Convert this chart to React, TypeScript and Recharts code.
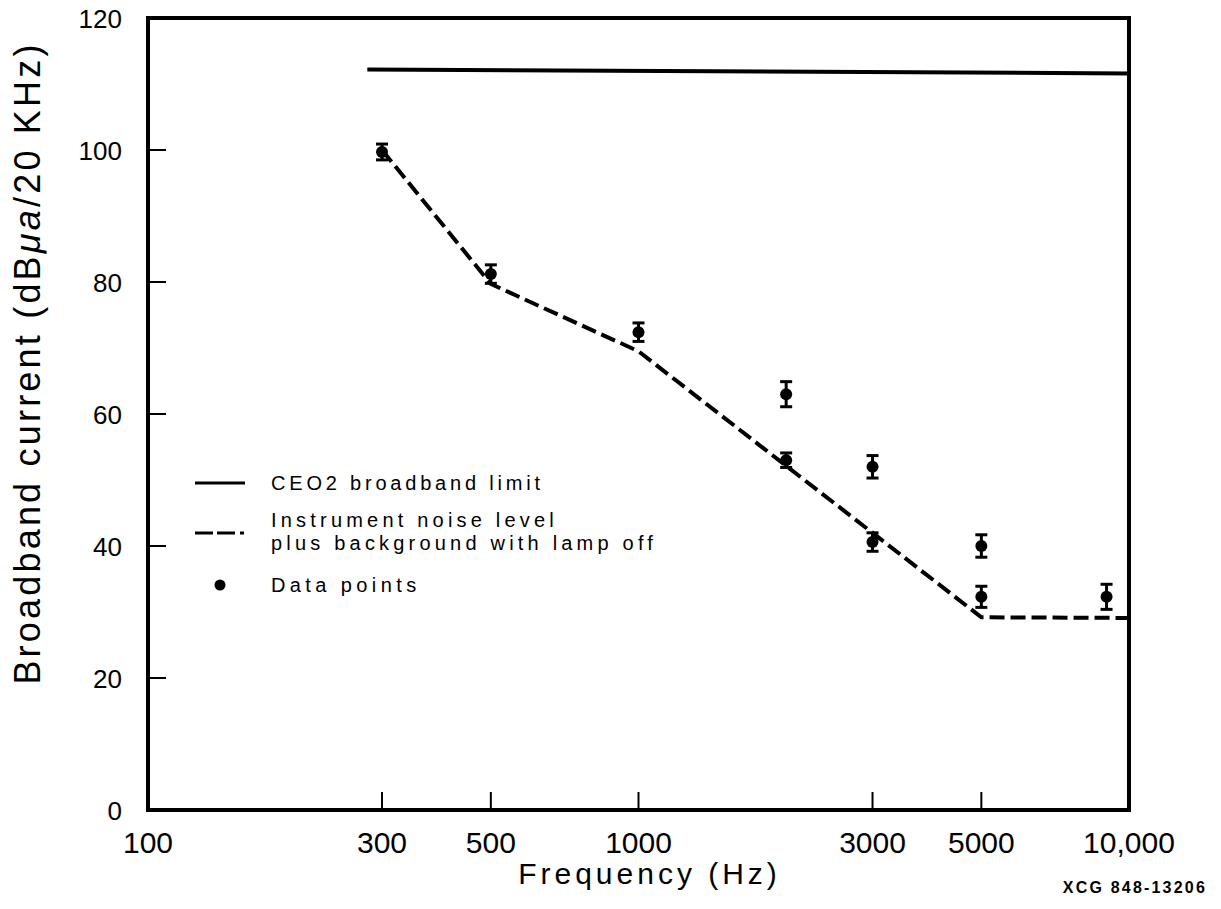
import React from 'react';
import { ComposedChart, Line, Scatter, XAxis, YAxis, ErrorBar, ReferenceArea, Legend, Label } from 'recharts';

const FONT = '"Liberation Sans", Arial, Helvetica, sans-serif';

// Axis ticks
const xTicks = [100, 300, 500, 1000, 3000, 5000, 10000];
const xTickLabels = ['100', '300', '500', '1000', '3000', '5000', '10,000'];
const yTicks = [0, 20, 40, 60, 80, 100, 120];

// CEO2 broadband limit
const limitFreq = [280, 10000];
const limitLevel = [112.2, 111.6];

// Instrument noise level plus background with lamp off
const noiseFreq = [300, 500, 1000, 5000, 10000];
const noiseLevel = [100, 79.7, 69.5, 29.2, 29.1];

// Data points with error bars
const pointFreq = [300, 500, 1000, 2000, 2000, 3000, 3000, 5000, 5000, 9000];
const pointLevel = [99.7, 81.2, 72.4, 63.0, 53.0, 52.0, 40.6, 40.0, 32.3, 32.3];
const pointError = [1.2, 1.4, 1.4, 1.9, 1.1, 1.7, 1.4, 1.7, 1.6, 1.9];

const limitData = limitFreq.map((x, i) => ({ x, y: limitLevel[i] }));
const noiseData = noiseFreq.map((x, i) => ({ x, y: noiseLevel[i] }));
const pointData = pointFreq.map((x, i) => ({ x, y: pointLevel[i], err: pointError[i] }));

const XTick = (props: any) => {
  const { x, y, payload } = props;
  const v = payload.value;
  const idx = xTicks.indexOf(v);
  const inner = v !== 100 && v !== 10000;
  return (
    <g>
      {inner && <line x1={x} x2={x} y1={y} y2={y - 18} stroke="#000" strokeWidth={2} />}
      <text x={x} y={y + 43} textAnchor="middle" fontSize={30} fontFamily={FONT} fill="#000">
        {idx >= 0 ? xTickLabels[idx] : String(v)}
      </text>
    </g>
  );
};

const YTick = (props: any) => {
  const { x, y, payload } = props;
  const v = payload.value;
  const inner = v !== 0 && v !== 120;
  return (
    <g>
      {inner && <line x1={x} x2={x + 18} y1={y} y2={y} stroke="#000" strokeWidth={2} />}
      <text x={x - 26} y={y + 9.5} textAnchor="end" fontSize={26} fontFamily={FONT} fill="#000">
        {String(v)}
      </text>
    </g>
  );
};

const YTitle = (props: any) => {
  const vb = props.viewBox || { x: 48, y: 18, width: 100, height: 792 };
  const cx = vb.x - 8;
  const cy = vb.y + vb.height / 2 - 51;
  return (
    <text
      x={cx}
      y={cy}
      transform={`rotate(-90, ${cx}, ${cy})`}
      textAnchor="middle"
      fontSize={36}
      letterSpacing={3.2}
      fontFamily={FONT}
      fill="#000"
    >
      Broadband current (dB<tspan fontStyle="italic">μa</tspan>/20 KHz)
    </text>
  );
};

const XTitle = (props: any) => {
  const vb = props.viewBox || { x: 148, y: 810, width: 981, height: 60 };
  return (
    <g>
      <text
        x={vb.x + vb.width / 2 + 11}
        y={vb.y + 74}
        textAnchor="middle"
        fontSize={30}
        letterSpacing={4}
        fontFamily={FONT}
        fill="#000"
      >
        Frequency (Hz)
      </text>
      <text
        x={vb.x + vb.width + 78}
        y={vb.y + 83}
        textAnchor="end"
        fontSize={16}
        fontWeight="bold"
        letterSpacing={2.2}
        fontFamily={FONT}
        fill="#000"
      >
        XCG 848-13206
      </text>
    </g>
  );
};

const LegendBox = () => (
  <svg width={480} height={140} style={{ display: 'block', overflow: 'visible' }}>
    <line x1={5} x2={55} y1={18} y2={18} stroke="#000" strokeWidth={3} />
    <text x={81} y={25} fontSize={20} letterSpacing={3.8} fontFamily={FONT} fill="#000">
      CEO2 broadband limit
    </text>
    <line x1={5} x2={23} y1={68} y2={68} stroke="#000" strokeWidth={3} />
    <line x1={27} x2={45} y1={68} y2={68} stroke="#000" strokeWidth={3} />
    <line x1={50} x2={54} y1={68} y2={68} stroke="#000" strokeWidth={3} />
    <text x={81} y={62} fontSize={20} letterSpacing={4.2} fontFamily={FONT} fill="#000">
      Instrument noise level
    </text>
    <text x={81} y={85} fontSize={20} letterSpacing={4.2} fontFamily={FONT} fill="#000">
      plus background with lamp off
    </text>
    <circle cx={30} cy={120} r={5.5} fill="#000" />
    <text x={81} y={127} fontSize={20} letterSpacing={4.4} fontFamily={FONT} fill="#000">
      Data points
    </text>
  </svg>
);

export default function App() {
  return (
    <div style={{ position: 'absolute', left: 0, top: 0, width: 1221, height: 909, background: '#fff' }}>
      <ComposedChart
        width={1221}
        height={909}
        margin={{ top: 18, right: 92, bottom: 39, left: 48 }}
      >
        <XAxis
          dataKey="x"
          type="number"
          scale="log"
          domain={[100, 10000]}
          ticks={xTicks}
          interval={0}
          allowDataOverflow
          axisLine={false}
          tickLine={false}
          tickSize={0}
          tickMargin={0}
          height={60}
          tick={<XTick />}
          label={<Label content={<XTitle />} />}
        />
        <YAxis
          dataKey="y"
          type="number"
          domain={[0, 120]}
          ticks={yTicks}
          interval={0}
          allowDataOverflow
          axisLine={false}
          tickLine={false}
          tickSize={0}
          tickMargin={0}
          width={100}
          tick={<YTick />}
          label={<Label content={<YTitle />} />}
        />
        <ReferenceArea
          x1={100}
          x2={10000}
          y1={0}
          y2={120}
          fill="none"
          fillOpacity={0}
          stroke="#000"
          strokeWidth={4}
          ifOverflow="visible"
        />
        <Line
          data={limitData}
          dataKey="y"
          type="linear"
          stroke="#000"
          strokeWidth={4}
          dot={false}
          activeDot={false}
          isAnimationActive={false}
          legendType="none"
        />
        <Line
          data={noiseData}
          dataKey="y"
          type="linear"
          stroke="#000"
          strokeWidth={4}
          strokeDasharray="15 6"
          dot={false}
          activeDot={false}
          isAnimationActive={false}
          legendType="none"
        />
        <Scatter
          data={pointData}
          dataKey="y"
          fill="#000"
          isAnimationActive={false}
          legendType="none"
          shape={(p: any) => <circle cx={p.cx} cy={p.cy} r={6} fill="#000" />}
        >
          <ErrorBar dataKey="err" direction="y" width={6} strokeWidth={3} stroke="#000" />
        </Scatter>
        <Legend
          layout="vertical"
          align="center"
          verticalAlign="middle"
          content={<LegendBox />}
          wrapperStyle={{ position: 'absolute', left: 190, top: 465, width: 480, height: 140 }}
        />
      </ComposedChart>
    </div>
  );
}
